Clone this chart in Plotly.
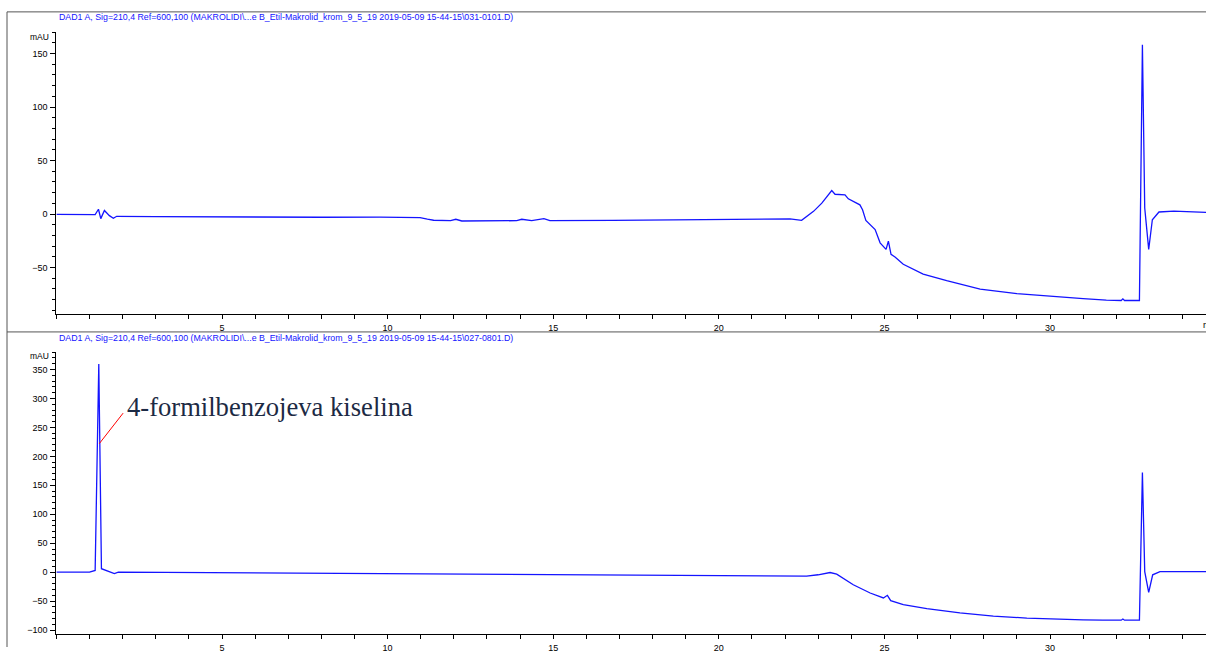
import plotly.graph_objects as go

# ---------------- data ----------------
top_time = [0.0, 0.6, 1.17, 1.27, 1.34, 1.45, 1.60, 1.72, 1.82, 3.0, 5.85, 8.0, 9.77, 10.5,
            10.98, 11.2, 11.39, 11.9, 12.06, 12.24, 13.9, 14.05, 14.35, 14.72, 14.9, 16.8,
            19.8, 22.15, 22.5, 22.86, 23.11, 23.41, 23.51, 23.81, 23.91, 24.26, 24.34, 24.44,
            24.72, 24.87, 25.05, 25.12, 25.2, 25.32, 25.57, 25.87, 26.17, 26.88, 27.89, 29.0,
            30.0, 31.0, 31.7, 32.15, 32.2, 32.25, 32.70, 32.79, 32.86, 32.98, 33.09, 33.29,
            33.74, 34.71]
top_mau = [-0.3, -0.4, -0.5, 4.5, -4.3, 3.3, -1.5, -4.0, -2.1, -2.4, -3.0, -3.0, -2.8, -2.9,
           -3.4, -4.8, -5.8, -6.2, -4.9, -6.5, -6.2, -4.9, -6.2, -4.3, -6.2, -5.9,
           -5.2, -4.6, -5.9, 2.5, 10.2, 21.9, 18.5, 17.9, 14.2, 8.6, 4.0, -5.9,
           -14.5, -26.9, -33.0, -25.3, -37.7, -40.1, -46.9, -51.5, -56.2, -62.3, -70.1, -74.3,
           -76.9, -79.0, -80.5, -80.8, -79.3, -80.8, -80.8, 158.3, 5.6, -33.0, -5.3, 1.9,
           2.8, 1.5]

bottom_time = [0.0, 1.0, 1.17, 1.28, 1.36, 1.47, 1.57, 1.75, 1.87, 5.0, 10.0, 15.0, 20.0,
               21.24, 22.0, 22.65, 23.0, 23.36, 23.56, 24.06, 24.57, 24.97, 25.09, 25.19,
               25.57, 26.28, 27.28, 28.29, 29.3, 30.3, 31.0, 31.6, 32.15, 32.2, 32.25, 32.70,
               32.79, 32.86, 32.98, 33.1, 33.32, 34.71]
bottom_mau = [0.0, 0.0, 3.0, 359.6, 6.0, 4.0, 2.0, -2.3, 0.0, -1.0, -2.5, -4.0, -5.4,
              -5.8, -6.0, -6.9, -4.5, -0.6, -3.5, -21.7, -36.0, -44.5, -40.0, -49.1,
              -56.0, -62.8, -70.2, -76.0, -79.3, -81.7, -82.4, -82.9, -82.9, -81.0, -82.9, -82.9,
              172.3, 1.0, -34.9, -4.6, 1.0, 1.0]

x_tick_vals = [5, 10, 15, 20, 25, 30]
top_y_ticks = [-50, 0, 50, 100, 150]
bottom_y_ticks = [-100, -50, 0, 50, 100, 150, 200, 250, 300, 350]

header_top = "DAD1 A, Sig=210,4 Ref=600,100 (MAKROLIDI\\...e B_Etil-Makrolid_krom_9_5_19 2019-05-09 15-44-15\\031-0101.D)"
header_bottom = "DAD1 A, Sig=210,4 Ref=600,100 (MAKROLIDI\\...e B_Etil-Makrolid_krom_9_5_19 2019-05-09 15-44-15\\027-0801.D)"
peak_label = "4-formilbenzojeva kiselina"
peak_label_time = 1.295
peak_label_mau = 222

# ---------------- figure ----------------
W, H = 1206, 653
def px_x(p):
    return p / W
def px_y(p):
    return 1 - p / H

LINE = "#1414ff"
tickfont = dict(family="Liberation Sans, Arial, sans-serif", size=9, color="#000000")

fig = go.Figure()
fig.add_trace(go.Scatter(x=top_time, y=top_mau, mode="lines",
                         line=dict(color=LINE, width=1.3), xaxis="x", yaxis="y",
                         showlegend=False, hoverinfo="skip"))
fig.add_trace(go.Scatter(x=bottom_time, y=bottom_mau, mode="lines",
                         line=dict(color=LINE, width=1.3), xaxis="x2", yaxis="y2",
                         showlegend=False, hoverinfo="skip"))

xcommon = dict(range=[0, 34.71], showline=True, linecolor="#000000", linewidth=1,
               ticks="outside", ticklen=4, tickwidth=1, tickcolor="#000000",
               tickmode="array", tickvals=x_tick_vals, showgrid=False, zeroline=False,
               tickfont=tickfont, ticklabelstandoff=1,
               minor=dict(ticks="outside", ticklen=4, tickwidth=1, tickcolor="#000000",
                          tickmode="linear", tick0=0, dtick=1, showgrid=False))
ycommon = dict(showline=True, linecolor="#000000", linewidth=1,
               ticks="outside", ticklen=5, tickwidth=1, tickcolor="#000000",
               tickmode="array", showgrid=False, zeroline=False, tickfont=tickfont,
               ticklabelstandoff=1,
               minor=dict(ticks="outside", ticklen=3, tickwidth=1, tickcolor="#000000",
                          tickmode="linear", tick0=0, dtick=10, showgrid=False))

xdom = [px_x(56.4), 1.0]
fig.update_layout(
    width=W, height=H,
    margin=dict(l=0, r=0, t=0, b=0),
    paper_bgcolor="white", plot_bgcolor="white",
    xaxis=dict(domain=xdom, anchor="y", **xcommon),
    yaxis=dict(domain=[px_y(317), px_y(32)], anchor="x", range=[-93.5, 170.4],
               tickvals=top_y_ticks, **ycommon),
    xaxis2=dict(domain=xdom, anchor="y2", **xcommon),
    yaxis2=dict(domain=[px_y(640), px_y(355)], anchor="x2", range=[-107.0, 380.7],
                tickvals=bottom_y_ticks, **ycommon),
)

frame = dict(color="#555555", width=1)
fig.add_shape(type="line", xref="paper", yref="paper", x0=px_x(7), x1=1, y0=px_y(12), y1=px_y(12), line=frame)
fig.add_shape(type="line", xref="paper", yref="paper", x0=px_x(7), x1=px_x(7), y0=px_y(12), y1=0, line=frame)
fig.add_shape(type="line", xref="paper", yref="paper", x0=px_x(7), x1=1, y0=px_y(335), y1=px_y(335), line=frame)

hfont = dict(family="Liberation Sans, Arial", size=8.8, color="#1414ff")
fig.add_annotation(text=header_top, xref="paper", yref="paper", x=px_x(57), y=px_y(17),
                   xanchor="left", yanchor="middle", showarrow=False, font=hfont)
fig.add_annotation(text=header_bottom, xref="paper", yref="paper", x=px_x(57), y=px_y(341),
                   xanchor="left", yanchor="middle", showarrow=False, font=hfont)

ufont = dict(family="Liberation Sans, Arial", size=8.5, color="#000000")
for yy in (37, 359):
    fig.add_annotation(text="mAU", xref="paper", yref="paper", x=px_x(51), y=px_y(yy),
                       xanchor="right", yanchor="middle", showarrow=False, font=ufont)
fig.add_annotation(text="min", xref="paper", yref="paper", x=px_x(1201), y=px_y(328),
                   xanchor="left", yanchor="middle", showarrow=False, font=tickfont)

# callout line to the first peak
fig.add_annotation(x=peak_label_time, y=peak_label_mau, xref="x2", yref="y2", text="",
                   showarrow=True, arrowhead=0, arrowwidth=1, arrowcolor="#ff0000",
                   ax=25, ay=-32, standoff=0, startstandoff=0)
fig.add_annotation(text=peak_label, xref="paper", yref="paper", x=px_x(125), y=px_y(411),
                   xanchor="left", yanchor="middle", showarrow=False,
                   font=dict(family="Liberation Serif, Times New Roman, serif", size=26.6, color="#1c2a44"))

fig.write_html("out.html", config={"displayModeBar": False},
               post_script="document.body.style.margin='0';document.body.style.overflow='hidden';")
